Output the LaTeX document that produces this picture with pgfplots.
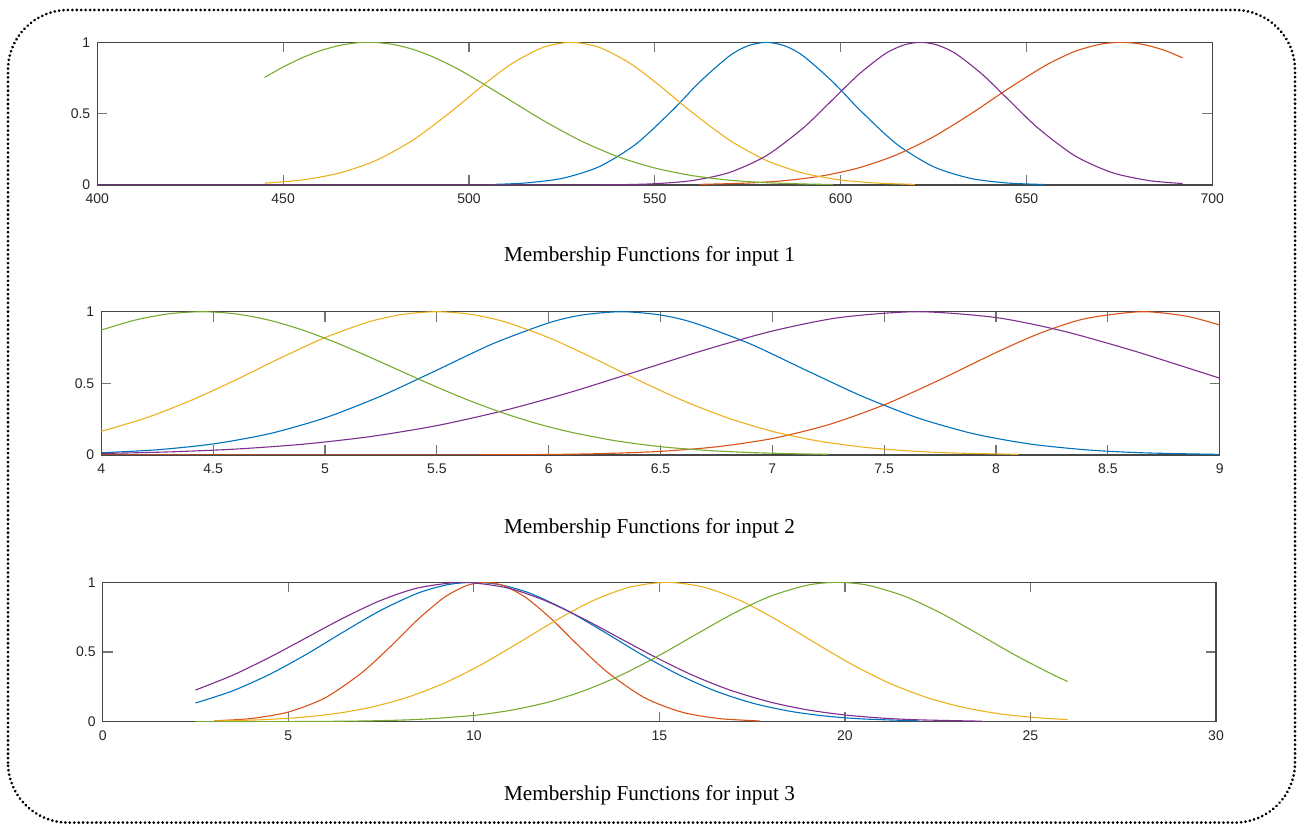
\documentclass[border=0pt]{standalone}
\usepackage{pgfplots}
\pgfplotsset{compat=1.18}
\usepackage{fontspec}
\setmainfont{Liberation Serif}
\newfontfamily\ticksf{Liberation Sans}
\definecolor{mblue}{RGB}{0,114,189}
\definecolor{morange}{RGB}{217,83,25}
\definecolor{myellow}{RGB}{237,177,32}
\definecolor{mpurple}{RGB}{126,47,142}
\definecolor{mgreen}{RGB}{119,172,48}
\pgfplotsset{
  mfaxis/.style={
    scale only axis,
    anchor=south west,
    ymin=0, ymax=1,
    ytick={0,0.5,1},
    yticklabels={0,0.5,1},
    tick align=inside,
    xtick pos=both, ytick pos=both,
    major tick length=5pt,
    axis line style={draw=black!72, line width=0.6pt},
    every tick/.style={draw=black!55, line width=0.6pt},
    tick label style={font=\ticksf\fontsize{7}{8}\selectfont, text=black!85},
    /pgf/number format/assume math mode=true,
    xticklabel style={yshift=-1pt},
    every axis plot/.append style={line width=0.55pt, smooth, tension=0.45},
  },
}
\begin{document}
\begin{tikzpicture}
\path (0pt,0pt) rectangle (650.5pt,412.5pt);
\draw[line width=1.5pt, line cap=round, dash pattern=on 0.01pt off 2.2pt, rounded corners=30pt] (4pt,1.2pt) rectangle (647.5pt,407.5pt);

% ---------- input 1 ----------
\begin{axis}[mfaxis, at={(48.65pt,320pt)}, width=557.5pt, height=71.35pt,
  xmin=400, xmax=700, xtick={400,450,...,700}]
\addplot[mblue] coordinates {(507,0.0045) (515,0.0137) (525,0.046) (535,0.128) (545,0.288) (555,0.530) (562,0.720) (570,0.903) (575,0.975) (580,1) (585,0.975) (590,0.903) (598,0.720) (605,0.530) (615,0.288) (625,0.128) (635,0.046) (645,0.0137) (655,0.0033)};
\addplot[morange] coordinates {(562,0.0042) (575,0.0136) (585,0.0307) (595,0.0635) (605,0.121) (615,0.211) (625,0.338) (635,0.498) (645,0.673) (655,0.836) (663,0.936) (670,0.987) (675.5,1) (681,0.987) (687,0.945) (692,0.891)};
\addplot[myellow] coordinates {(445,0.013) (455,0.035) (465,0.083) (475,0.172) (485,0.316) (495,0.510) (505,0.724) (512,0.858) (520,0.965) (527.5,1) (535,0.965) (543,0.858) (550,0.724) (560,0.510) (570,0.316) (580,0.172) (590,0.083) (600,0.035) (610,0.013) (620,0.0043)};
\addplot[mpurple] coordinates {(400,0) (500,0) (520,0.0001) (540,0.0022) (550,0.009) (560,0.0307) (570,0.087) (580,0.205) (590,0.401) (598,0.602) (605,0.778) (612,0.920) (617,0.981) (621.5,1) (626,0.981) (631,0.920) (638,0.778) (645,0.602) (653,0.401) (663,0.205) (673,0.087) (683,0.0307) (692,0.0103)};
\addplot[mgreen] coordinates {(445,0.754) (450,0.827) (455,0.890) (460,0.941) (465,0.977) (470,0.997) (473,1) (475,0.999) (480,0.983) (485,0.950) (490,0.901) (495,0.840) (500,0.769) (510,0.611) (520,0.452) (530,0.311) (540,0.199) (550,0.119) (560,0.066) (570,0.034) (580,0.016) (590,0.0073) (598,0.0036)};
\end{axis}
\node[font=\fontsize{10.6}{12}\selectfont] at (324.75pt,284.5pt) {Membership Functions for input 1};

% ---------- input 2 ----------
\begin{axis}[mfaxis, at={(50.65pt,185pt)}, width=559.2pt, height=71.65pt,
  xmin=4, xmax=9, xtick={4,4.5,...,9}]
\addplot[mblue] coordinates {(4.0,0.0156) (4.25,0.0364) (4.5,0.0771) (4.75,0.148) (5.0,0.259) (5.25,0.411) (5.5,0.592) (5.75,0.776) (6.0,0.922) (6.15,0.977) (6.325,1) (6.5,0.977) (6.65,0.922) (6.9,0.776) (7.15,0.592) (7.4,0.411) (7.65,0.259) (7.9,0.148) (8.15,0.0771) (8.4,0.0364) (8.65,0.0156) (9.0,0.0041)};
\addplot[morange] coordinates {(4.0,0) (5.0,0) (5.5,0.0004) (6.0,0.0038) (6.25,0.0103) (6.5,0.0255) (6.75,0.057) (7.0,0.115) (7.25,0.211) (7.5,0.350) (7.75,0.526) (8.0,0.715) (8.2,0.852) (8.4,0.952) (8.65,1) (8.85,0.969) (9.0,0.907)};
\addplot[myellow] coordinates {(4.0,0.165) (4.2,0.259) (4.4,0.380) (4.6,0.523) (4.8,0.676) (5.0,0.819) (5.2,0.931) (5.35,0.982) (5.5,1) (5.65,0.982) (5.8,0.931) (6.0,0.819) (6.2,0.676) (6.4,0.523) (6.6,0.380) (6.8,0.259) (7.0,0.165) (7.2,0.099) (7.4,0.0557) (7.6,0.0294) (7.8,0.0145) (8.1,0.0045)};
\addplot[mpurple] coordinates {(4.0,0.0104) (4.3,0.0214) (4.6,0.0413) (4.9,0.075) (5.2,0.128) (5.5,0.205) (5.8,0.310) (6.1,0.439) (6.4,0.586) (6.7,0.734) (7.0,0.865) (7.3,0.959) (7.65,1) (8.0,0.959) (8.3,0.865) (8.6,0.734) (8.8,0.636) (9.0,0.536)};
\addplot[mgreen] coordinates {(4.0,0.872) (4.15,0.941) (4.3,0.985) (4.45,1) (4.6,0.985) (4.75,0.941) (4.9,0.872) (5.05,0.784) (5.2,0.683) (5.35,0.578) (5.5,0.474) (5.65,0.377) (5.8,0.291) (5.95,0.218) (6.1,0.159) (6.3,0.099) (6.5,0.058) (6.7,0.0325) (6.9,0.0172) (7.1,0.0086) (7.25,0.005)};
\end{axis}
\node[font=\fontsize{10.6}{12}\selectfont] at (324.75pt,148.5pt) {Membership Functions for input 2};

% ---------- input 3 ----------
\begin{axis}[mfaxis, at={(51.35pt,51.65pt)}, width=556.65pt, height=69.7pt,
  xmin=0, xmax=30, xtick={0,5,...,30}]
\addplot[mblue] coordinates {(2.5,0.134) (3.5,0.221) (4.5,0.340) (5.5,0.485) (6.5,0.646) (7.5,0.800) (8.5,0.923) (9.3,0.983) (10,1) (10.7,0.983) (11.5,0.923) (12.5,0.800) (13.5,0.646) (14.5,0.485) (15.5,0.340) (16.5,0.221) (17.5,0.134) (18.5,0.0757) (19.5,0.0398) (20.5,0.0195) (22,0.0058)};
\addplot[morange] coordinates {(3.0,0.0063) (4.0,0.0228) (5.0,0.069) (6.0,0.172) (7.0,0.355) (7.8,0.551) (8.5,0.735) (9.2,0.891) (9.8,0.976) (10.3,1) (10.8,0.976) (11.4,0.891) (12.1,0.735) (12.8,0.551) (13.6,0.355) (14.6,0.172) (15.6,0.069) (16.6,0.0228) (17.7,0.0054)};
\addplot[myellow] coordinates {(3.0,0.0049) (4.2,0.0133) (5.2,0.0281) (6.2,0.0554) (7.2,0.1017) (8.2,0.174) (9.2,0.276) (10.2,0.409) (11.2,0.565) (12.2,0.725) (13.2,0.867) (14.2,0.965) (15.2,1) (16.2,0.965) (17.2,0.867) (18.2,0.725) (19.2,0.565) (20.2,0.409) (21.2,0.276) (22.2,0.174) (23.2,0.1017) (24.2,0.0554) (25.2,0.0281) (26.0,0.0155)};
\addplot[mpurple] coordinates {(2.5,0.227) (3.5,0.333) (4.5,0.462) (5.5,0.604) (6.5,0.746) (7.5,0.871) (8.5,0.960) (9.7,1) (10.9,0.960) (11.9,0.871) (12.9,0.746) (13.9,0.604) (14.9,0.462) (15.9,0.333) (16.9,0.227) (18,0.140) (19,0.0845) (20,0.0483) (21,0.026) (22,0.0133) (23.7,0.0037)};
\addplot[mgreen] coordinates {(2.5,0.0001) (5.0,0.0009) (7.0,0.0051) (8.5,0.0163) (10,0.0451) (11,0.0822) (12,0.140) (13,0.225) (14,0.338) (15,0.476) (16,0.628) (17,0.777) (18,0.901) (19,0.980) (19.8,1) (20.6,0.980) (21.6,0.901) (22.6,0.777) (23.6,0.628) (24.6,0.476) (25.6,0.338) (26.0,0.289)};
\end{axis}
\node[font=\fontsize{10.6}{12}\selectfont] at (324.75pt,15pt) {Membership Functions for input 3};
\end{tikzpicture}
\end{document}
